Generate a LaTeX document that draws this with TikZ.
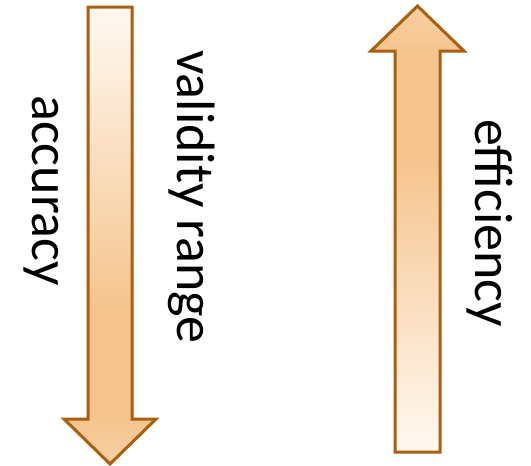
\documentclass[tikz,border=0pt]{standalone}
\usepackage{fontspec}
\setmainfont{Carlito}
\definecolor{arrowline}{RGB}{170,94,14}
\definecolor{arrowpeak}{RGB}{245,196,142}
\definecolor{arrowtip}{RGB}{247,208,164}
\definecolor{arrowtail}{RGB}{255,249,242}
% fill along an arrow: pale tail, deep orange near the head, lighter tip
\pgfdeclareverticalshading{arrowfill}{100bp}{%
  color(0bp)=(arrowtip); color(25bp)=(arrowtip);
  color(30bp)=(arrowpeak); color(42bp)=(arrowpeak);
  color(75bp)=(arrowtail); color(100bp)=(arrowtail)}
\tikzset{
  bigarrow/.style={draw=arrowline, line width=3pt, miter limit=10,
    line join=miter, shading=arrowfill},
  label/.style={font=\fontsize{54}{60}\selectfont, inner sep=0pt,
    anchor=base west, rotate=-90}
}
\begin{document}
\begin{tikzpicture}[x=1pt,y=-1pt]
\useasboundingbox (0,0) rectangle (531,466);
% downward arrow
\path[bigarrow] (88,7) -- (132,7) -- (132,419) -- (156,419) -- (110,464)
  -- (64,419) -- (88,419) -- cycle;
% upward arrow
\path[bigarrow, shading angle=180] (395,452) -- (440,452) -- (440,51)
  -- (464,51) -- (417.5,6) -- (371,51) -- (395,51) -- cycle;
\node[label] (acc) at (32,95) {accuracy};
\node[label] (val) at (177,50) {validity range};
\node[label] (eff) at (475,119) {efficiency};
\end{tikzpicture}
\end{document}
